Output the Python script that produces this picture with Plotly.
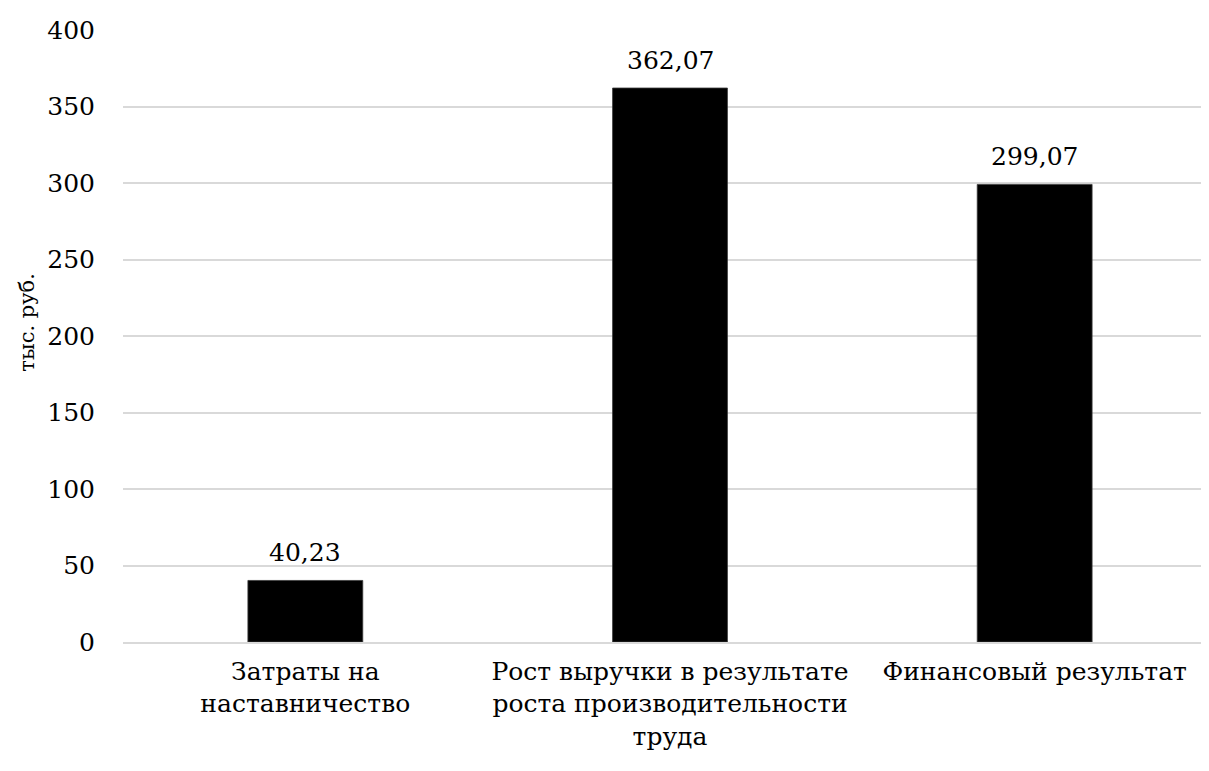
import plotly.graph_objects as go

categories = ["Затраты на<br>наставничество",
              "Рост выручки в результате<br>роста производительности<br>труда",
              "Финансовый результат"]
values = [40.23, 362.07, 299.07]
value_labels = ["40,23", "362,07", "299,07"]
y_ticks = [0, 50, 100, 150, 200, 250, 300, 350, 400]
y_title = "тыс. руб."

font_family = "DejaVu Serif"

fig = go.Figure(go.Bar(
    x=categories, y=values,
    marker=dict(color="#000000", line=dict(color="#3a3a3a", width=0.8)),
    hoverinfo="skip",
))

for cat, val, lab in zip(categories, values, value_labels):
    fig.add_annotation(
        x=cat, y=val, text=lab, showarrow=False,
        xref="x", yref="y", yanchor="bottom", yshift=11,
        font=dict(family=font_family, size=25, color="#000000"),
    )

fig.add_annotation(
    x=-0.088, y=0.523, xref="paper", yref="paper",
    text=y_title, textangle=-90, showarrow=False,
    xanchor="center", yanchor="middle",
    font=dict(family=font_family, size=21, color="#000000"),
)

fig.update_layout(
    width=1209, height=771,
    margin=dict(l=114.5, r=0, t=22, b=137, pad=0),
    paper_bgcolor="white", plot_bgcolor="white",
    bargap=0.685,
    showlegend=False,
    font=dict(family=font_family, size=25, color="#000000"),
)
fig.update_yaxes(
    range=[0, 400], tickvals=y_ticks,
    showgrid=True, gridcolor="#d9d9d9", gridwidth=1.5,
    zeroline=False, showline=False,
    ticks="", ticklabelstandoff=27,
    tickfont=dict(family=font_family, size=25, color="#000000"),
)
fig.update_xaxes(
    range=[-0.5, 2.5], tickangle=0,
    showline=True, linecolor="#d9d9d9", linewidth=1.5,
    ticks="", showgrid=False, ticklabelstandoff=6,
    tickfont=dict(family=font_family, size=25, color="#000000"),
)

fig.write_html("out.html")
